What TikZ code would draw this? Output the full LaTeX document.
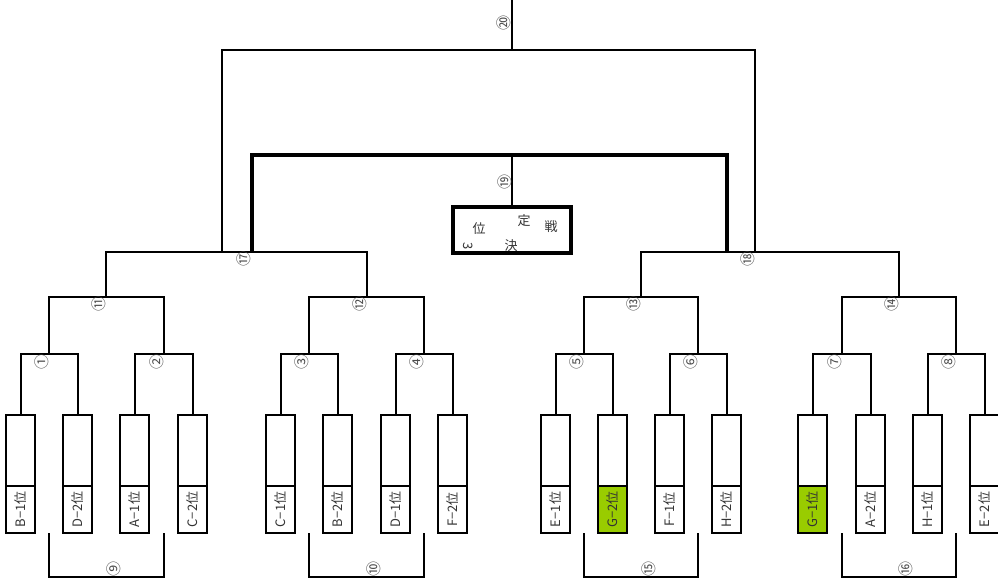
\documentclass[tikz,border=0pt]{standalone}
\usepackage{fontspec}
\setmainfont{Noto Sans CJK JP}
\usepackage{xcolor}
\usetikzlibrary{positioning, calc}
\definecolor{pickgreen}{HTML}{99CC00}
\definecolor{inkgray}{HTML}{333333}

\begin{document}
\begin{tikzpicture}[x = 1pt, y = -1pt, line width = 2pt,
          slot/.style = {draw, minimum width = 29pt, minimum height = 71pt, outer sep = 0pt, inner sep = 0pt},
          tag/.style = {draw, minimum width = 29pt, minimum height = 47pt, outer sep = 0pt, inner sep = 0pt,
                        text = inkgray, font = \fontsize{13}{13}\selectfont},
          num/.style = {rotate = 90, inner sep = 0pt, text = black!70, font = \fontsize{15}{15}\selectfont},
          bold/.style = {line width = 4.5pt},
          third/.style = {draw, line width = 4pt, minimum width = 118pt, minimum height = 46pt, outer sep = 0pt},
          kanji/.style = {inner sep = 0pt, text = inkgray, font = \fontsize{13}{13}\selectfont}]
          \useasboundingbox (0,0) rectangle (998,587);

          \node[slot] (b1) at (20.5,450.5) {};
          \node[tag, below = 0pt of b1] (t1) {\rotatebox{90}{B−1位}};
          \node[slot] (b2) at (77.5,450.5) {};
          \node[tag, below = 0pt of b2] (t2) {\rotatebox{90}{D−2位}};
          \node[slot] (b3) at (134.5,450.5) {};
          \node[tag, below = 0pt of b3] (t3) {\rotatebox{90}{A−1位}};
          \node[slot] (b4) at (192.5,450.5) {};
          \node[tag, below = 0pt of b4] (t4) {\rotatebox{90}{C−2位}};
          \node[slot] (b5) at (280.5,450.5) {};
          \node[tag, below = 0pt of b5] (t5) {\rotatebox{90}{C−1位}};
          \node[slot] (b6) at (337.5,450.5) {};
          \node[tag, below = 0pt of b6] (t6) {\rotatebox{90}{B−2位}};
          \node[slot] (b7) at (395.5,450.5) {};
          \node[tag, below = 0pt of b7] (t7) {\rotatebox{90}{D−1位}};
          \node[slot] (b8) at (452.5,450.5) {};
          \node[tag, below = 0pt of b8] (t8) {\rotatebox{90}{F−2位}};
          \node[slot] (b9) at (555.5,450.5) {};
          \node[tag, below = 0pt of b9] (t9) {\rotatebox{90}{E−1位}};
          \node[slot] (b10) at (612.5,450.5) {};
          \node[tag, fill = pickgreen, below = 0pt of b10] (t10) {\rotatebox{90}{G−2位}};
          \node[slot] (b11) at (669.5,450.5) {};
          \node[tag, below = 0pt of b11] (t11) {\rotatebox{90}{F−1位}};
          \node[slot] (b12) at (726.5,450.5) {};
          \node[tag, below = 0pt of b12] (t12) {\rotatebox{90}{H−2位}};
          \node[slot] (b13) at (812.5,450.5) {};
          \node[tag, fill = pickgreen, below = 0pt of b13] (t13) {\rotatebox{90}{G−1位}};
          \node[slot] (b14) at (870.5,450.5) {};
          \node[tag, below = 0pt of b14] (t14) {\rotatebox{90}{A−2位}};
          \node[slot] (b15) at (927.5,450.5) {};
          \node[tag, below = 0pt of b15] (t15) {\rotatebox{90}{H−1位}};
          \node[slot] (b16) at (984.5,450.5) {};
          \node[tag, below = 0pt of b16] (t16) {\rotatebox{90}{E−2位}};

          \coordinate (m1) at (49,354);
          \coordinate (m2) at (163.5,354);
          \coordinate (m3) at (309,354);
          \coordinate (m4) at (424,354);
          \coordinate (m5) at (584,354);
          \coordinate (m6) at (698,354);
          \coordinate (m7) at (841.5,354);
          \coordinate (m8) at (956,354);
          \coordinate (m11) at (106.25,297);
          \coordinate (m12) at (366.5,297);
          \coordinate (m13) at (641,297);
          \coordinate (m14) at (898.75,297);
          \coordinate (m17) at (221.5,252);
          \coordinate (s17) at (252,252);
          \coordinate (m18) at (755,252);
          \coordinate (s18) at (727,252);
          \coordinate (m19) at (512,155);
          \coordinate (m20) at (512,50);
          \coordinate (top) at (512,0);
          \coordinate (c9) at (106.25,577);
          \coordinate (c10) at (366.5,577);
          \coordinate (c15) at (641,577);
          \coordinate (c16) at (898.75,577);

          \draw (b1.north) |- (m1) -| (b2.north);
          \draw (b3.north) |- (m2) -| (b4.north);
          \draw (b5.north) |- (m3) -| (b6.north);
          \draw (b7.north) |- (m4) -| (b8.north);
          \draw (b9.north) |- (m5) -| (b10.north);
          \draw (b11.north) |- (m6) -| (b12.north);
          \draw (b13.north) |- (m7) -| (b14.north);
          \draw (b15.north) |- (m8) -| (b16.north);
          \draw (m1) |- (m11) -| (m2);
          \draw (m3) |- (m12) -| (m4);
          \draw (m5) |- (m13) -| (m6);
          \draw (m7) |- (m14) -| (m8);
          \draw (m11) |- (m17) -| (m12);
          \draw (m13) |- (m18) -| (m14);
          \draw (m17) |- (m20) -| (m18);
          \draw (m20) -- (top);
          \draw[bold] (s17) |- (m19) -| (s18);
          \node[third, below = 52pt of m19] (third) {};
          \draw (m19) -- (third.north);
          \draw (m1 |- t1.south) |- (c9) -| (m2 |- t4.south);
          \draw (m3 |- t5.south) |- (c10) -| (m4 |- t8.south);
          \draw (m5 |- t9.south) |- (c15) -| (m6 |- t12.south);
          \draw (m7 |- t13.south) |- (c16) -| (m8 |- t16.south);

          \node[kanji, rotate = -90] (k1) at ([shift={(-44,16)}]third.center) {3};
          \node[kanji] (k2) at ([shift={(-33,-1)}]third.center) {位};
          \node[kanji] (k3) at ([shift={(-1,16)}]third.center) {決};
          \node[kanji] (k4) at ([shift={(12,-9)}]third.center) {定};
          \node[kanji] (k5) at ([shift={(39,-3)}]third.center) {戦};

          \node[num] (n1) at ([shift={(-7,8)}]m1) {①};
          \node[num] (n2) at ([shift={(-7,8)}]m2) {②};
          \node[num] (n3) at ([shift={(-7,8)}]m3) {③};
          \node[num] (n4) at ([shift={(-7,8)}]m4) {④};
          \node[num] (n5) at ([shift={(-7,8)}]m5) {⑤};
          \node[num] (n6) at ([shift={(-7,8)}]m6) {⑥};
          \node[num] (n7) at ([shift={(-7,8)}]m7) {⑦};
          \node[num] (n8) at ([shift={(-7,8)}]m8) {⑧};
          \node[num] (n11) at ([shift={(-7,7)}]m11) {⑪};
          \node[num] (n12) at ([shift={(-7,7)}]m12) {⑫};
          \node[num] (n13) at ([shift={(-7,7)}]m13) {⑬};
          \node[num] (n14) at ([shift={(-7,7)}]m14) {⑭};
          \node[num] (n17) at ([shift={(-8,7)}]s17) {⑰};
          \node[num] (n18) at ([shift={(-7,7)}]m18) {⑱};
          \node[num] (n19) at ([shift={(-7,27)}]m19) {⑲};
          \node[num] (n20) at ([shift={(-8,-27)}]m20) {⑳};
          \node[num] (n9) at ([shift={(7.5,-8)}]c9) {⑨};
          \node[num] (n10) at ([shift={(7.5,-8)}]c10) {⑩};
          \node[num] (n15) at ([shift={(7.5,-8)}]c15) {⑮};
          \node[num] (n16) at ([shift={(7.5,-8)}]c16) {⑯};
        \end{tikzpicture}
\end{document}
